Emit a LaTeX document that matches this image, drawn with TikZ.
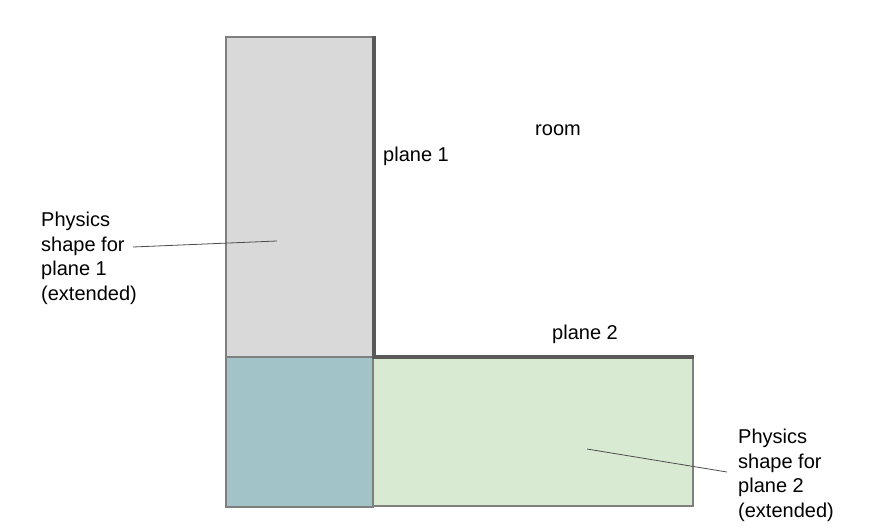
\documentclass[tikz,border=0pt]{standalone}
\usepackage{fontspec}
\setmainfont{Liberation Sans}
\definecolor{shapeA}{HTML}{D9D9D9}
\definecolor{shapeB}{HTML}{A2C4C9}
\definecolor{shapeC}{HTML}{D9EAD3}
\definecolor{edgegray}{HTML}{7F7F7F}
\definecolor{planegray}{HTML}{595959}
\begin{document}
\begin{tikzpicture}[x=1pt,y=-1pt,
  box/.style={draw=edgegray,line width=1.2pt},
  plane/.style={draw=planegray,line width=4pt},
  lbl/.style={font=\fontsize{20}{24.5}\selectfont,inner sep=0pt},
  multi/.style={lbl,align=left,anchor=north west},
  leader/.style={draw=black!70,line width=0.8pt}]
\useasboundingbox (0,0) rectangle (878,527);
\path[box,fill=shapeA] (226,37) rectangle (373,357);
\path[box,fill=shapeB] (226,357) rectangle (373,507);
\path[box,fill=shapeC] (373,357) rectangle (693,506);
\path[plane] (373.5,36) -- (373.5,357) -- (693.5,357);
\node[lbl,anchor=center] (room) at (558,130) {room};
\node[lbl,anchor=west] (p1) at (383,156) {plane 1};
\node[lbl,anchor=west] (p2) at (552,334) {plane 2};
\node[multi] (t1) at (41,212) {Physics\\shape for\\plane 1\\(extended)};
\node[multi] (t2) at (738,429) {Physics\\shape for\\plane 2\\(extended)};
\coordinate (a1) at (133,247);
\coordinate (b1) at (277,241);
\coordinate (a2) at (587,449);
\coordinate (b2) at (727,472);
\draw[leader] (a1) -- (b1);
\draw[leader] (a2) -- (b2);
\end{tikzpicture}
\end{document}
